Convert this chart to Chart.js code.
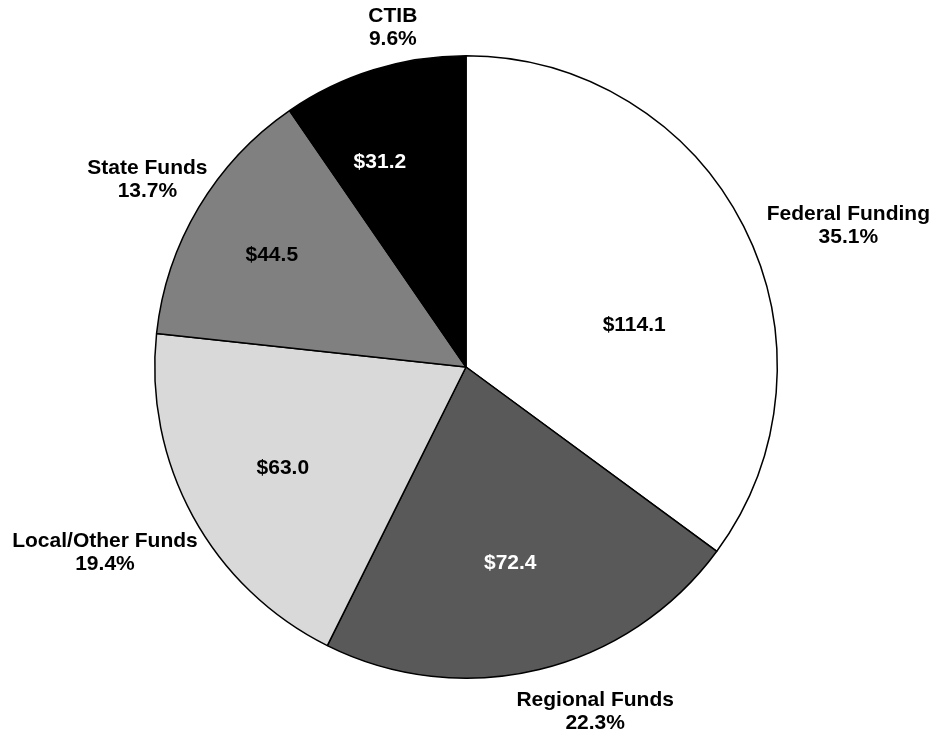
<!DOCTYPE html>
<html>
<head>
<meta charset="utf-8">
<title>Funding sources</title>
<script src="https://cdn.jsdelivr.net/npm/chart.js@4/dist/chart.umd.min.js"></script>
<style>
  html, body { margin: 0; padding: 0; background: #fff; }
  #chart { display: block; }
</style>
</head>
<body>
<canvas id="chart" width="941" height="738"></canvas>
<script>
// data (millions)
const categories = ['Federal Funding', 'Regional Funds', 'Local/Other Funds', 'State Funds', 'CTIB'];
const amounts = [114.1, 72.4, 63.0, 44.5, 31.2];
const sliceColors = ['#ffffff', '#595959', '#d9d9d9', '#808080', '#000000'];
const valueTextColors = ['#000', '#fff', '#000', '#000', '#fff'];

// label placement: [radius factor, angle nudge in degrees] relative to slice middle
const outerLabelPlace = [[1.31, 6.5], [1.184, -6.9], [1.305, 1.4], [1.187, -0.4], [1.115, 5.1]];
const innerLabelPlace = [[0.557, 12.8], [0.646, 0.9], [0.672, -0.2], [0.72, -0.9], [0.715, -5.5]];

const total = amounts.reduce((a, b) => a + b, 0);

const pieLabels = {
  id: 'pieLabels',
  afterDatasetsDraw(chart) {
    const ctx = chart.ctx;
    const arcs = chart.getDatasetMeta(0).data;
    ctx.save();
    ctx.font = 'bold 21px "Liberation Sans", Arial, sans-serif';
    ctx.textAlign = 'center';
    ctx.textBaseline = 'middle';
    arcs.forEach((arc, i) => {
      const p = arc.getProps(['x', 'y', 'startAngle', 'endAngle', 'outerRadius'], true);
      const mid = (p.startAngle + p.endAngle) / 2;

      // value inside the slice
      let a = mid + innerLabelPlace[i][1] * Math.PI / 180;
      let r = p.outerRadius * innerLabelPlace[i][0];
      ctx.fillStyle = valueTextColors[i];
      ctx.fillText('$' + amounts[i].toFixed(1), p.x + Math.cos(a) * r, p.y + Math.sin(a) * r);

      // name and share outside
      a = mid + outerLabelPlace[i][1] * Math.PI / 180;
      r = p.outerRadius * outerLabelPlace[i][0];
      const cx = p.x + Math.cos(a) * r;
      const cy = p.y + Math.sin(a) * r;
      const pct = (amounts[i] / total * 100).toFixed(1) + '%';
      ctx.fillStyle = '#000';
      ctx.fillText(categories[i], cx, cy - 11.5);
      ctx.fillText(pct, cx, cy + 11.5);
    });
    ctx.restore();
  }
};

new Chart(document.getElementById('chart'), {
  type: 'pie',
  data: {
    labels: categories,
    datasets: [{
      data: amounts,
      backgroundColor: sliceColors,
      borderColor: '#000',
      borderWidth: 1.5
    }]
  },
  options: {
    responsive: false,
    animation: false,
    layout: { padding: { top: 55, bottom: 59, left: 146, right: 155 } },
    plugins: {
      legend: { display: false },
      tooltip: { enabled: false }
    }
  },
  plugins: [pieLabels]
});
</script>
</body>
</html>
